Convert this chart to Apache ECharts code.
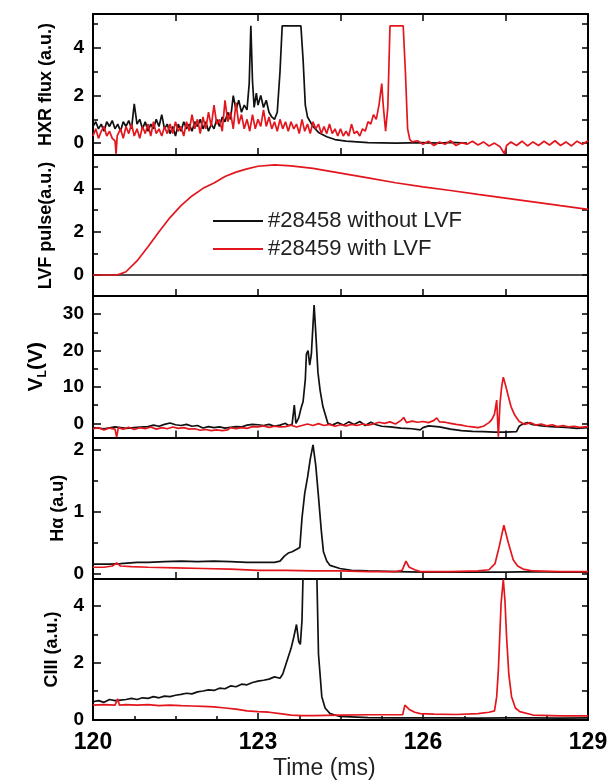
<!DOCTYPE html>
<html><head><meta charset="utf-8">
<script src="https://cdn.jsdelivr.net/npm/echarts@6/dist/echarts.min.js"></script>
<style>html,body{margin:0;padding:0;background:#fff}#c{width:615px;height:784px}</style>
</head><body><div id="c"></div>
<script>
// ---------- DATA ----------
const nameBlack = '#28458 without LVF';
const nameRed = '#28459 with LVF';
const xTickLabels = [120, 123, 126, 129];

// Panel 1: HXR flux
const hxrBlackT = [120.0,120.05,120.1,120.15,120.2,120.25,120.3,120.35,120.4,120.45,120.5,120.55,120.6,120.65,120.7,120.75,120.8,120.85,120.9,120.95,121.0,121.05,121.1,121.15,121.2,121.25,121.3,121.35,121.4,121.45,121.5,121.55,121.6,121.65,121.7,121.75,121.8,121.85,121.9,121.95,122.0,122.05,122.1,122.15,122.2,122.25,122.3,122.35,122.4,122.45,122.5,122.55,122.6,122.65,122.7,122.75,122.8,122.84,122.87,122.9,122.93,122.97,123.0,123.05,123.1,123.15,123.2,123.25,123.3,123.35,123.4,123.44,123.78,123.82,123.86,123.9,124.0,124.1,124.25,124.4,124.6,124.8,125.0,125.5,126.0,126.3,126.5,126.8];
const hxrBlackV = [0.7,0.9,0.6,0.8,0.5,0.9,0.7,0.95,0.6,0.8,0.5,0.9,0.7,0.95,0.6,1.65,0.8,1.0,0.6,0.9,0.5,0.8,0.6,1.0,0.7,1.2,0.6,0.8,0.4,0.7,0.3,0.8,0.5,0.9,0.6,0.8,0.5,0.9,0.7,1.0,0.6,0.9,0.5,0.8,0.6,1.0,0.7,1.1,0.9,1.3,1.0,2.0,1.4,1.8,1.3,1.6,1.4,2.5,4.93,2.6,1.5,2.1,1.6,2.0,1.5,1.8,1.3,1.1,1.0,1.3,3.0,4.93,4.93,3.5,1.6,1.1,0.7,0.45,0.27,0.15,0.08,0.05,0.02,0.0,0.02,0.0,0.03,0.0];
const hxrRedT = [120.0,120.05,120.1,120.15,120.2,120.25,120.3,120.35,120.4,120.42,120.44,120.5,120.55,120.6,120.65,120.7,120.75,120.8,120.85,120.9,120.95,121.0,121.05,121.1,121.15,121.2,121.25,121.3,121.35,121.4,121.45,121.5,121.55,121.6,121.65,121.7,121.75,121.8,121.85,121.9,121.95,122.0,122.05,122.1,122.15,122.2,122.25,122.3,122.35,122.4,122.45,122.5,122.55,122.6,122.65,122.7,122.75,122.8,122.85,122.9,122.95,123.0,123.05,123.1,123.15,123.2,123.25,123.3,123.35,123.4,123.45,123.5,123.55,123.6,123.65,123.7,123.75,123.8,123.85,123.9,123.95,124.0,124.05,124.1,124.15,124.2,124.25,124.3,124.35,124.4,124.45,124.5,124.55,124.6,124.65,124.7,124.75,124.8,124.85,124.9,124.95,125.0,125.05,125.1,125.15,125.2,125.25,125.28,125.32,125.36,125.4,125.64,125.68,125.72,125.76,125.8,125.9,126.0,126.1,126.2,126.3,126.4,126.5,126.6,126.7,126.8,126.9,127.0,127.1,127.2,127.3,127.4,127.48,127.52,127.6,127.7,127.8,127.9,128.0,128.1,128.2,128.3,128.4,128.5,128.6,128.7,128.8,128.9,129.0];
const hxrRedV = [0.3,0.6,0.2,0.5,0.7,0.3,0.5,0.2,0.1,-0.45,0.3,0.6,0.2,0.7,0.4,0.8,0.3,0.6,0.2,0.7,0.4,0.8,0.3,0.9,0.4,0.6,0.3,0.7,0.4,0.8,0.4,0.9,0.5,0.7,0.3,0.9,0.5,1.2,0.6,1.0,0.4,1.1,0.6,1.3,0.7,1.6,0.8,1.0,0.5,1.8,0.9,1.3,0.6,1.7,0.8,1.2,0.6,1.0,0.5,1.2,0.6,1.0,0.7,1.4,0.7,1.1,0.6,0.9,0.5,1.0,0.6,0.9,0.5,0.9,0.6,0.8,0.4,1.0,0.5,0.8,0.4,0.9,0.6,0.8,0.4,0.7,0.4,0.8,0.4,0.6,0.3,0.6,0.3,0.5,0.3,0.8,0.4,0.5,0.3,0.6,0.5,0.9,0.8,1.2,1.0,1.6,2.5,1.5,0.5,1.5,4.93,4.93,3.0,0.6,0.15,0.05,0.1,-0.05,0.08,-0.1,0.05,-0.05,0.1,-0.1,0.02,-0.05,0.08,-0.08,0.05,-0.12,0.0,-0.15,-0.45,-0.1,0.05,-0.1,0.08,-0.12,0.05,-0.1,0.08,-0.08,0.1,-0.1,0.05,-0.12,0.08,-0.05,0.1];

// Panel 2: LVF pulse
const lvfBlackT = [120.0, 129.0];
const lvfBlackV = [0, 0];
const lvfRedT = [120.0,120.43,120.5,120.6,120.8,121.0,121.2,121.4,121.6,121.8,122.0,122.2,122.4,122.6,122.8,123.0,123.3,123.6,124.0,124.5,125.0,125.5,126.0,126.5,127.0,127.5,128.0,128.5,129.0];
const lvfRedV = [0,0,0.05,0.15,0.65,1.3,2.0,2.65,3.2,3.65,4.0,4.25,4.55,4.75,4.9,5.02,5.08,5.04,4.92,4.7,4.48,4.26,4.07,3.9,3.72,3.55,3.38,3.2,3.03];

// Panel 3: loop voltage V_L
const vlBlackT = [120.0,120.2,120.4,120.6,120.8,121.0,121.1,121.2,121.3,121.4,121.5,121.6,121.7,121.8,121.9,122.0,122.1,122.2,122.3,122.4,122.5,122.6,122.7,122.8,122.9,123.0,123.1,123.2,123.3,123.4,123.5,123.55,123.62,123.66,123.69,123.74,123.78,123.82,123.86,123.88,123.91,123.94,123.97,124.02,124.05,124.09,124.13,124.18,124.27,124.35,124.45,124.55,124.65,124.75,124.85,124.95,125.05,125.15,125.25,125.4,125.6,125.8,125.95,126.0,126.1,126.3,126.5,126.7,126.9,127.1,127.3,127.5,127.7,127.75,127.8,127.9,128.0,128.2,128.4,128.6,128.8,129.0];
const vlBlackV = [-1.2,-1.5,-1.0,-1.4,-1.1,-0.9,-0.5,-0.8,-0.3,0.1,-0.4,-0.6,-0.3,-0.8,-0.6,-1.3,-0.9,-1.2,-1.0,-1.3,-1.1,-0.9,-1.0,-0.5,-0.3,-0.4,-0.6,-0.3,-0.8,-0.5,0.0,-0.6,-0.3,5.0,0.0,1.5,4.0,6.0,12,19,20,16,19,32.5,25,14,9,4.6,0.0,-0.5,0.2,-0.5,0.4,-0.3,0.5,-0.6,0.3,-0.4,-0.8,-1.0,-1.3,-1.5,-1.8,-1.2,-0.7,-1.0,-1.6,-2.0,-2.2,-2.3,-2.4,-2.4,-2.3,-0.8,-0.3,0.2,-0.4,-0.8,-1.0,-1.1,-1.4,-1.2];
const vlRedT = [120.0,120.1,120.2,120.3,120.4,120.43,120.46,120.55,120.65,120.75,120.85,120.95,121.05,121.15,121.25,121.35,121.45,121.55,121.65,121.75,121.85,121.95,122.05,122.15,122.25,122.35,122.45,122.5,122.6,122.7,122.8,122.9,123.0,123.1,123.2,123.3,123.4,123.5,123.6,123.7,123.8,123.9,124.0,124.1,124.2,124.3,124.4,124.5,124.6,124.7,124.8,124.9,125.0,125.1,125.2,125.3,125.4,125.5,125.6,125.65,125.7,125.8,125.9,126.0,126.1,126.2,126.25,126.3,126.4,126.5,126.6,126.7,126.8,126.9,127.0,127.1,127.15,127.2,127.25,127.3,127.34,127.37,127.4,127.43,127.46,127.5,127.55,127.6,127.67,127.75,127.85,127.95,128.05,128.15,128.25,128.35,128.45,128.55,128.65,128.75,128.85,129.0];
const vlRedV = [-1.5,-1.2,-1.8,-1.3,-1.6,-3.8,-1.2,-1.6,-1.1,-1.7,-1.2,-1.5,-1.0,-1.6,-1.2,-1.5,-1.0,-1.4,-1.2,-1.6,-1.5,-1.9,-1.7,-2.0,-1.8,-2.0,-1.8,-1.2,-1.5,-1.2,-1.4,-0.9,-1.0,-0.7,-1.1,-0.8,-1.0,-0.9,-0.5,-1.0,-0.6,-0.2,-0.6,-0.1,-0.6,-0.3,-0.8,-0.4,-0.7,-0.3,-0.6,-0.2,-0.5,-0.2,0.3,0.0,0.4,-0.2,0.8,1.6,0.2,0.6,0.3,0.5,0.2,0.8,1.5,0.4,0.3,0.0,-0.3,-0.5,-0.8,-1.0,-1.2,-0.8,-0.3,0.2,1.0,2.5,6.4,-3.7,5.5,10,12.7,10.5,7.5,4.6,2.2,0.5,-0.3,0.2,-0.5,-0.2,-0.7,-0.4,-0.9,-0.6,-1.0,-0.8,-1.1,-0.9];

// Panel 4: H-alpha
const haBlackT = [120.0,120.3,120.5,120.8,121.0,121.3,121.6,121.9,122.2,122.5,122.8,123.1,123.3,123.4,123.48,123.55,123.62,123.68,123.76,123.8,123.85,123.9,123.95,124.0,124.05,124.1,124.15,124.19,124.25,124.31,124.49,124.7,125.0,125.5,126.0,126.5,127.0,127.5,128.0,128.5,129.0];
const haBlackV = [0.15,0.15,0.16,0.18,0.18,0.19,0.2,0.19,0.2,0.19,0.18,0.18,0.18,0.2,0.28,0.33,0.35,0.38,0.42,0.9,1.3,1.55,1.85,2.08,1.75,1.24,0.7,0.35,0.2,0.13,0.08,0.05,0.04,0.03,0.02,0.02,0.02,0.02,0.03,0.02,0.02];
const haRedT = [120.0,120.2,120.35,120.43,120.5,120.7,121.0,121.5,122.0,122.5,123.0,123.5,124.0,124.5,125.0,125.5,125.62,125.69,125.75,125.85,125.95,126.5,127.0,127.2,127.31,127.39,127.47,127.55,127.64,127.72,127.82,128.0,128.5,129.0];
const haRedV = [0.1,0.1,0.12,0.17,0.12,0.11,0.1,0.09,0.08,0.07,0.05,0.05,0.04,0.04,0.03,0.03,0.05,0.2,0.1,0.06,0.03,0.03,0.04,0.06,0.16,0.45,0.78,0.5,0.22,0.12,0.07,0.04,0.03,0.03];

// Panel 5: CIII
const c3BlackT = [120.0,120.1,120.2,120.3,120.4,120.5,120.6,120.7,120.8,120.9,121.0,121.1,121.2,121.3,121.4,121.5,121.6,121.7,121.8,121.9,122.0,122.1,122.2,122.3,122.4,122.5,122.6,122.7,122.8,122.9,123.0,123.1,123.2,123.3,123.4,123.45,123.5,123.55,123.6,123.65,123.7,123.74,123.77,123.8,123.83,124.06,124.1,124.16,124.22,124.31,124.49,125.0,125.5,126.0,126.5,127.0,127.5,128.0,128.5,129.0];
const c3BlackV = [0.62,0.66,0.6,0.7,0.66,0.68,0.7,0.74,0.7,0.76,0.74,0.8,0.76,0.82,0.8,0.85,0.88,0.92,0.9,0.97,1.0,1.04,1.02,1.1,1.08,1.18,1.15,1.24,1.22,1.3,1.35,1.38,1.42,1.5,1.45,1.6,1.9,2.2,2.5,2.9,3.35,2.75,2.65,3.5,6,6,2.3,0.8,0.4,0.2,0.1,0.06,0.05,0.05,0.05,0.04,0.05,0.05,0.04,0.05];
const c3RedT = [120.0,120.2,120.4,120.45,120.48,120.6,120.8,121.0,121.2,121.4,121.6,121.8,122.0,122.2,122.4,122.6,122.8,123.0,123.2,123.4,123.6,123.8,124.0,124.5,125.0,125.5,125.63,125.67,125.75,125.85,125.95,126.2,126.6,127.0,127.2,127.3,127.34,127.37,127.42,127.46,127.49,127.52,127.56,127.61,127.68,127.76,128.0,128.5,129.0];
const c3RedV = [0.5,0.52,0.5,0.72,0.5,0.52,0.5,0.52,0.48,0.5,0.48,0.47,0.46,0.44,0.4,0.36,0.3,0.27,0.25,0.2,0.15,0.13,0.13,0.15,0.16,0.16,0.16,0.5,0.35,0.25,0.2,0.18,0.17,0.2,0.25,0.3,0.8,1.74,4.1,4.95,4.2,2.9,1.6,0.8,0.4,0.27,0.15,0.12,0.12];

// y-axis ticks per panel
const hxrMajor = [0,2,4], hxrMinor = [1,3,5];
const lvfMajor = [0,2,4], lvfMinor = [1,3,5];
const vlMajor = [0,10,20,30], vlMinor = [5,15,25];
const haMajor = [0,1,2], haMinor = [0.5,1.5];
const c3Major = [0,2,4], c3Minor = [1,3];

// ---------- CHART ----------
const BLACK = '#111111', RED = '#e3161d';
const zip = (t, v) => t.map((x, i) => [x, v[i]]);
const panels = [
  {top:14, h:141, min:-0.5, max:5.43, major:hxrMajor, minor:hxrMinor, name:'HXR flux (a.u.)', gap:38, nfs:18,
   data:[zip(hxrBlackT,hxrBlackV), zip(hxrRedT,hxrRedV)]},
  {top:155, h:141, min:-0.97, max:5.54, major:lvfMajor, minor:lvfMinor, name:'LVF pulse(a.u.)', gap:38, nfs:18,
   data:[zip(lvfBlackT,lvfBlackV), zip(lvfRedT,lvfRedV)]},
  {top:296, h:141.5, min:-3.9, max:35.0, major:vlMajor, minor:vlMinor, name:'{v|V}{s|L}{v|(V)}', gap:44, nfs:21,
   data:[zip(vlBlackT,vlBlackV), zip(vlRedT,vlRedV)]},
  {top:437.5, h:141.5, min:-0.09, max:2.2, major:haMajor, minor:haMinor, name:'H\u03b1 (a.u)', gap:26, nfs:18,
   data:[zip(haBlackT,haBlackV), zip(haRedT,haRedV)]},
  {top:579, h:141, min:-0.025, max:4.96, major:c3Major, minor:c3Minor, name:'CIII (a.u.)', gap:32, nfs:18,
   data:[zip(c3BlackT,c3BlackV), zip(c3RedT,c3RedV)]}
];

const axisLine = {show:true, onZero:false, lineStyle:{color:'#000', width:2}};
const grid = [], xAxis = [], yAxis = [], series = [];
panels.forEach((p, i) => {
  grid.push({left:93, right:27, top:p.top, height:p.h, containLabel:false});
  const last = i === panels.length - 1;
  xAxis.push({
    type:'value', gridIndex:i, position:'bottom', min:120, max:129,
    interval: last ? 3 : 1.5,
    axisLine: axisLine,
    axisTick:{show:true, inside:true, length:7, lineStyle:{color:'#000', width:1.5}},
    minorTick:{show:last, splitNumber:4, length:4, lineStyle:{color:'#000', width:1.5}},
    axisLabel:{show:last, fontSize:23, fontWeight:'bold', color:'#000', fontFamily:'Liberation Sans, Arial', margin:11,
      customValues: xTickLabels},
    splitLine:{show:false}, minorSplitLine:{show:false}
  });
  const base = yAxis.length;
  const rich = {
    v:{fontSize:p.nfs, fontWeight:'bold', color:'#000', fontFamily:'Liberation Sans, Arial', lineHeight:26, verticalAlign:'middle'},
    s:{fontSize:12, fontWeight:'bold', color:'#000', fontFamily:'Liberation Sans, Arial', lineHeight:12, verticalAlign:'bottom'}
  };
  yAxis.push({
    type:'value', gridIndex:i, position:'left', min:p.min, max:p.max,
    name:p.name, nameLocation:'middle', nameGap:p.gap, nameMoveOverlap:false,
    nameTextStyle:{fontSize:p.nfs, fontWeight:'bold', color:'#000', fontFamily:'Liberation Sans, Arial', rich: rich},
    axisLine: axisLine,
    axisTick:{show:true, inside:true, length:8, lineStyle:{color:'#000', width:1.5}, customValues:p.major},
    axisLabel:{show:true, fontSize:19, fontWeight:'bold', color:'#000', fontFamily:'Liberation Sans, Arial', margin:9, customValues:p.major},
    splitLine:{show:false}
  });
  yAxis.push({
    type:'value', gridIndex:i, position:'left', min:p.min, max:p.max,
    axisLine:{show:false},
    axisTick:{show:true, inside:true, length:5, lineStyle:{color:'#000', width:1.5}, customValues:p.minor},
    axisLabel:{show:false}, splitLine:{show:false}
  });
  yAxis.push({
    type:'value', gridIndex:i, position:'right', min:p.min, max:p.max,
    axisLine: axisLine,
    axisTick:{show:true, inside:true, length:6, lineStyle:{color:'#000', width:1.5}, customValues:p.major.concat(p.minor)},
    axisLabel:{show:false}, splitLine:{show:false}
  });
  [[nameBlack, BLACK], [nameRed, RED]].forEach((s, k) => {
    series.push({
      type:'line', name:s[0], xAxisIndex:i, yAxisIndex:base, data:p.data[k],
      showSymbol:false, symbol:'none', clip:true, animation:false,
      lineStyle:{color:s[1], width:1.7}, itemStyle:{color:s[1]}
    });
  });
});
// top axis of first panel
xAxis.push({
  type:'value', gridIndex:0, position:'top', min:120, max:129, interval:1.5,
  axisLine: axisLine,
  axisTick:{show:true, inside:true, length:7, lineStyle:{color:'#000', width:1.5}},
  axisLabel:{show:false}, splitLine:{show:false}
});

const chart = echarts.init(document.getElementById('c'), null, {renderer:'canvas'});
chart.setOption({
  backgroundColor:'#fff',
  animation:false,
  grid, xAxis, yAxis, series,
  legend:{
    data:[
      {name:nameBlack, icon:'rect', itemStyle:{color:BLACK}},
      {name:nameRed, icon:'rect', itemStyle:{color:RED}}
    ],
    orient:'vertical', left:208, top:205,
    itemWidth:50, itemHeight:2, itemGap:6, selectedMode:false,
    textStyle:{fontSize:22, color:'#222', fontFamily:'Liberation Sans, Arial', padding:[0,0,0,0]}
  },
  graphic:[{
    type:'text', left:273, top:757,
    style:{text:'Time (ms)', fontSize:23, fill:'#222', fontFamily:'Liberation Sans, Arial'}
  }]
});
</script></body></html>
